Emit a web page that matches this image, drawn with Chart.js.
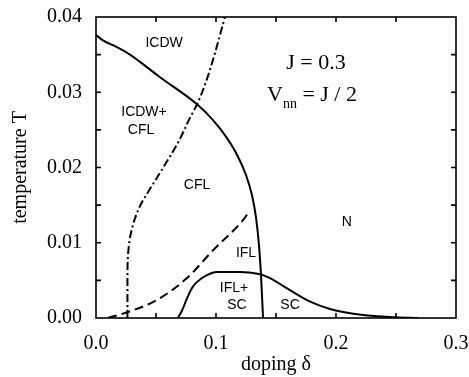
<!DOCTYPE html>
<html><head><meta charset="utf-8">
<script src="https://cdn.jsdelivr.net/npm/chart.js@4/dist/chart.umd.min.js"></script>
<style>html,body{margin:0;padding:0;background:#fff}#wrap{width:469px;height:377px}</style>
</head><body><div id="wrap"><canvas id="c" width="469" height="377"></canvas></div>
<script>
// CDW boundary (solid)
const cdwX = [0, 0.0058, 0.0175, 0.0283, 0.0533, 0.0842, 0.0975, 0.1083, 0.1175, 0.125, 0.13, 0.1333, 0.1358, 0.1375, 0.1392];
const cdwT = [0.0376, 0.0369, 0.0360, 0.0350, 0.0320, 0.0284, 0.0263, 0.0241, 0.0217, 0.0190, 0.0163, 0.0134, 0.0097, 0.0057, 0];
// CFL crossover (dash-dot)
const cflX = [0.0262, 0.0262, 0.0267, 0.0285, 0.0320, 0.0367, 0.0433, 0.0533, 0.0683, 0.0783, 0.0842, 0.0908, 0.0975, 0.1033, 0.1075];
const cflT = [0, 0.0050, 0.0084, 0.0108, 0.0130, 0.0149, 0.0167, 0.0193, 0.0233, 0.0266, 0.0284, 0.0310, 0.0343, 0.0376, 0.04];
// IFL crossover (dashed)
const iflX = [0.01, 0.0267, 0.0508, 0.0758, 0.0975, 0.1225, 0.1275];
const iflT = [0, 0.0008, 0.0024, 0.0053, 0.0090, 0.0130, 0.0141];
// SC dome (solid)
const scX = [0.0683, 0.0717, 0.0758, 0.0800, 0.0842, 0.0925, 0.1008, 0.12, 0.1367, 0.139, 0.145, 0.1617, 0.178, 0.195, 0.2225, 0.25, 0.268];
const scT = [0, 0.0010, 0.0026, 0.0040, 0.0048, 0.0057, 0.0061, 0.0061, 0.0058, 0.0057, 0.0053, 0.0037, 0.0022, 0.0012, 0.0004, 0.0001, 0];

const xTickLabels = [0, 0.1, 0.2, 0.3];
const yTickLabels = [0, 0.01, 0.02, 0.03, 0.04];
const xTickMarks = [0.05, 0.1, 0.15, 0.2, 0.25];
const yTickMarks = [0.005, 0.01, 0.015, 0.02, 0.025, 0.03, 0.035];

const phaseNames = ['ICDW', 'ICDW+', 'CFL', 'CFL', 'IFL', 'IFL+', 'SC', 'SC', 'N'];
const phaseX = [0.0567, 0.04, 0.0375, 0.0842, 0.125, 0.115, 0.1175, 0.1617, 0.209];
const phaseT = [0.0365, 0.0274, 0.0250, 0.0177, 0.0086, 0.0040, 0.0017, 0.0017, 0.0128];

const pts = (xs, ys) => xs.map((x, i) => ({x, y: ys[i]}));

const overlay = {
  id: 'overlay',
  afterDraw(chart) {
    const ctx = chart.ctx, a = chart.chartArea;
    const xs = chart.scales.x, ys = chart.scales.y;
    ctx.save();
    ctx.strokeStyle = '#000';
    ctx.lineWidth = 1.6;
    ctx.strokeRect(a.left, a.top, a.right - a.left, a.bottom - a.top);
    const L = 5;
    ctx.beginPath();
    xTickMarks.forEach(v => {
      const p = xs.getPixelForValue(v);
      ctx.moveTo(p, a.bottom); ctx.lineTo(p, a.bottom - L);
      ctx.moveTo(p, a.top); ctx.lineTo(p, a.top + L);
    });
    yTickMarks.forEach(v => {
      const p = ys.getPixelForValue(v);
      ctx.moveTo(a.left, p); ctx.lineTo(a.left + L, p);
      ctx.moveTo(a.right, p); ctx.lineTo(a.right - L, p);
    });
    ctx.stroke();
    ctx.fillStyle = '#000';
    ctx.font = '14px "Liberation Sans", Arial, sans-serif';
    ctx.textAlign = 'center'; ctx.textBaseline = 'middle';
    phaseNames.forEach((t, i) => ctx.fillText(t, xs.getPixelForValue(phaseX[i]), ys.getPixelForValue(phaseT[i])));
    ctx.font = '22px "Liberation Serif", "Times New Roman", serif';
    ctx.fillText('J = 0.3', xs.getPixelForValue(0.1833), ys.getPixelForValue(0.0339));
    const yV = ys.getPixelForValue(0.0296);
    const part1 = 'V', part2 = 'nn', part3 = ' = J / 2';
    const w1 = ctx.measureText(part1).width, w3 = ctx.measureText(part3).width;
    ctx.font = '14px "Liberation Serif", "Times New Roman", serif';
    const w2 = ctx.measureText(part2).width;
    const total = w1 + w2 + w3;
    let x0 = xs.getPixelForValue(0.18) - total / 2;
    ctx.textAlign = 'left';
    ctx.font = '22px "Liberation Serif", "Times New Roman", serif';
    ctx.fillText(part1, x0, yV);
    ctx.font = '14px "Liberation Serif", "Times New Roman", serif';
    ctx.fillText(part2, x0 + w1, yV + 9);
    ctx.font = '22px "Liberation Serif", "Times New Roman", serif';
    ctx.fillText(part3, x0 + w1 + w2, yV);
    ctx.restore();
  }
};

const serif = {family: '"Liberation Serif", "Times New Roman", serif', size: 20};
const line = {showLine: true, borderColor: '#000', borderWidth: 2, pointRadius: 0, fill: false, cubicInterpolationMode: 'monotone'};

new Chart(document.getElementById('c'), {
  type: 'scatter',
  data: {
    datasets: [
      Object.assign({data: pts(cdwX, cdwT)}, line),
      Object.assign({data: pts(cflX, cflT), borderDash: [8, 3, 2, 3]}, line, {indexAxis: 'y'}),
      Object.assign({data: pts(iflX, iflT), borderDash: [9, 5]}, line),
      Object.assign({data: pts(scX, scT)}, line)
    ]
  },
  options: {
    responsive: false, animation: false,
    layout: {padding: {left: 0, right: 13, top: 17, bottom: 0}},
    plugins: {legend: {display: false}, tooltip: {enabled: false}},
    scales: {
      x: {
        type: 'linear', min: 0, max: 0.3,
        afterBuildTicks: s => { s.ticks = xTickLabels.map(v => ({value: v})); },
        afterFit: s => { s.height = 59; s.paddingLeft = 0; s.paddingRight = 0; },
        grid: {display: false, drawTicks: false}, border: {display: false},
        ticks: {color: '#000', font: serif, padding: 14, maxRotation: 0, callback: v => v.toFixed(1)},
        title: {display: true, text: 'doping δ', color: '#000', font: serif, padding: {top: 4, bottom: 0}}
      },
      y: {
        type: 'linear', min: 0, max: 0.04,
        afterBuildTicks: s => { s.ticks = yTickLabels.map(v => ({value: v})); },
        afterFit: s => { s.width = 96; s.paddingTop = 0; s.paddingBottom = 0; },
        grid: {display: false, drawTicks: false}, border: {display: false},
        ticks: {color: '#000', font: serif, padding: 14, callback: v => v.toFixed(2)},
        title: {display: true, text: 'temperature T', color: '#000', font: serif, padding: {top: 9, bottom: 2}}
      }
    }
  },
  plugins: [overlay]
});
</script>
</body></html>
